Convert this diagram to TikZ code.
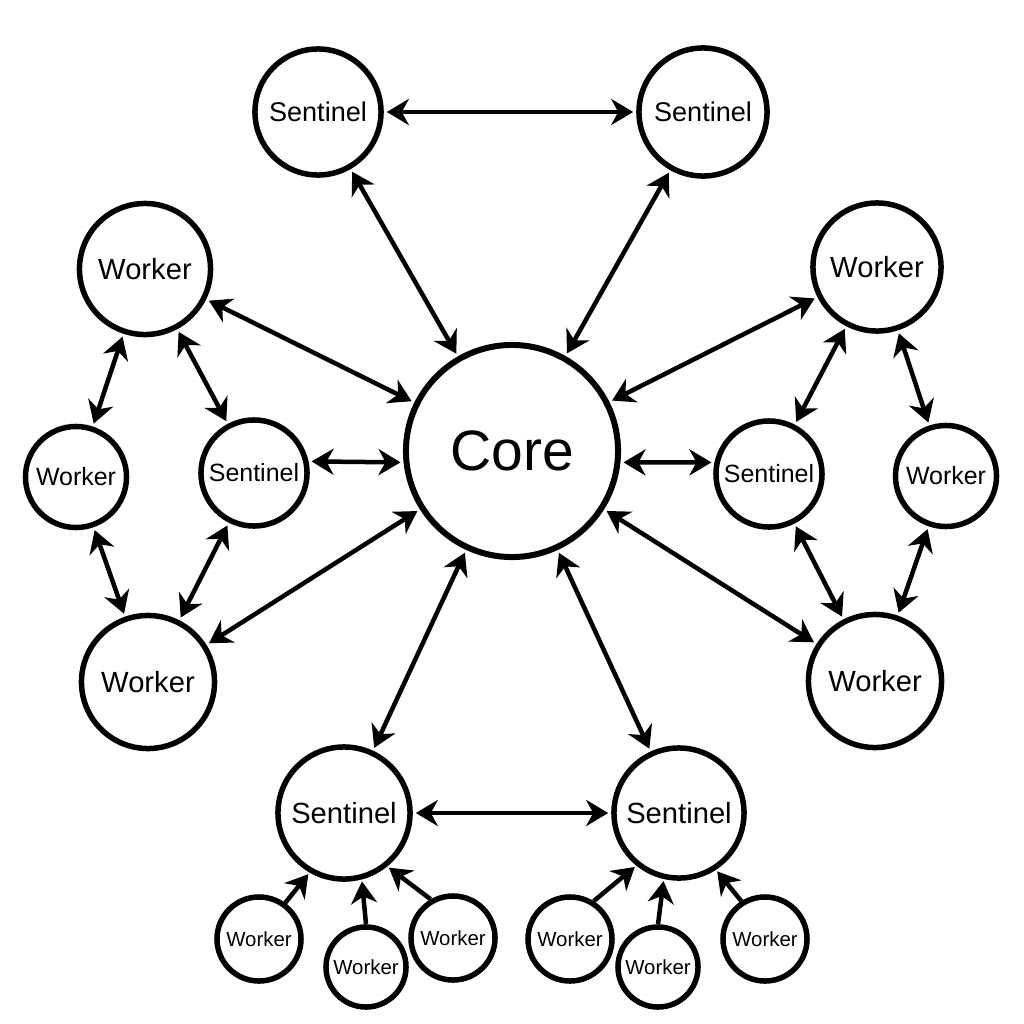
\documentclass[tikz,border=0pt]{standalone}
\usepackage{fontspec}
\setmainfont{Liberation Sans}
\usetikzlibrary{arrows.meta}
\begin{document}
\begin{tikzpicture}[x=0.01cm,y=-0.01cm,
	unit/.style={circle,draw,line width=0.055cm,inner sep=0pt,minimum size=#1},
	link/.style={line width=0.045cm,{Stealth[length=0.22cm,width=0.26cm,inset=0.07cm]}-{Stealth[length=0.22cm,width=0.26cm,inset=0.07cm]},shorten <=0.03cm,shorten >=0.03cm},
	feed/.style={line width=0.045cm,-{Stealth[length=0.22cm,width=0.26cm,inset=0.07cm]},shorten >=0.02cm},
	coretext/.style={font=\fontsize{16.2}{18}\selectfont},
	bigtext/.style={font=\fontsize{8.3}{10}\selectfont},
	midtext/.style={font=\fontsize{7.7}{9}\selectfont},
	smalltext/.style={font=\fontsize{7.1}{8}\selectfont},
	tinytext/.style={font=\fontsize{5.8}{7}\selectfont}]
	\useasboundingbox (0,0) rectangle (1024,1024);
	%CORE
	\node[unit=2.12cm,coretext,line width=0.06cm] (core) at (512,451) {Core};
	%TOP
	\node[unit=1.26cm,midtext] (sTL) at (318,112) {Sentinel};
	\node[unit=1.28cm,midtext] (sTR) at (703,112) {Sentinel};
	%LEFT
	\node[unit=1.31cm,bigtext] (wL1) at (145,269) {Worker};
	\node[unit=1.01cm,smalltext] (wL2) at (76,477) {Worker};
	\node[unit=1.06cm,smalltext] (sL) at (254,473) {Sentinel};
	\node[unit=1.33cm,bigtext] (wL3) at (148,682) {Worker};
	%RIGHT
	\node[unit=1.28cm,bigtext] (wR1) at (877,267) {Worker};
	\node[unit=1.06cm,smalltext] (sR) at (769,474) {Sentinel};
	\node[unit=1.01cm,smalltext] (wR2) at (946,476) {Worker};
	\node[unit=1.33cm,bigtext] (wR3) at (875,681) {Worker};
	%BOTTOM
	\node[unit=1.32cm,bigtext] (sBL) at (344,813) {Sentinel};
	\node[unit=1.3cm,bigtext] (sBR) at (679,813) {Sentinel};
	\node[unit=0.84cm,tinytext] (bl1) at (259,939) {Worker};
	\node[unit=0.8cm,tinytext] (bl2) at (366,967) {Worker};
	\node[unit=0.84cm,tinytext] (bl3) at (453,938) {Worker};
	\node[unit=0.84cm,tinytext] (br1) at (570,939) {Worker};
	\node[unit=0.8cm,tinytext] (br2) at (658,967) {Worker};
	\node[unit=0.84cm,tinytext] (br3) at (765,939) {Worker};
	%LINKS
	\foreach \a/\b in {sTL/sTR,sTL/core,sTR/core,wL1/core,wR1/core,wL3/core,wR3/core,sBL/core,sBR/core,
		wL1/wL2,wL1/sL,wL2/wL3,sL/wL3,wR1/sR,wR1/wR2,sR/wR3,wR2/wR3,sBL/sBR}
		\draw[link] (\a) -- (\b);
	\draw[link] (sL.12) -- (core.186);
	\draw[link] (core.-6) -- (sR.168);
	%FEEDS
	\draw[feed] (bl1.54) -- (sBL.-120);
	\draw[feed] (bl2.north) -- (sBL.-75);
	\draw[feed] (bl3.120) -- (sBL.-51);
	\draw[feed] (br1.58) -- (sBR.-129);
	\draw[feed] (br2.north) -- (sBR.-103);
	\draw[feed] (br3.122) -- (sBR.-57);
\end{tikzpicture}
\end{document}
